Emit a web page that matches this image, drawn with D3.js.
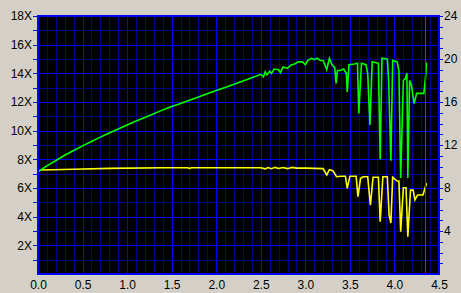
<!DOCTYPE html>
<html>
<head>
<meta charset="utf-8">
<script src="https://cdn.jsdelivr.net/npm/d3@7"></script>
<style>
    html, body { margin: 0; padding: 0; background: #d4d0c8; }
    svg { display: block; }
    text { font-family: "Liberation Sans", Arial, sans-serif; font-size: 12px; fill: #000; }
</style>
</head>
<body>
<svg id="chart" width="461" height="293"></svg>
<script>
// tick values
const xTicks = [0, 0.5, 1, 1.5, 2, 2.5, 3, 3.5, 4, 4.5];
const leftTicks = d3.range(1, 19);
const rightTicks = d3.range(1, 25);

// read speed (X), left axis
const speedPos = [0, 0.1, 0.2, 0.3, 0.4, 0.5, 0.6, 0.7, 0.8, 0.9, 1.0, 1.1, 1.2, 1.3, 1.4, 1.5,
    1.6, 1.7, 1.8, 1.9, 2.0, 2.1, 2.2, 2.3, 2.4, 2.5, 2.53, 2.55, 2.57, 2.6, 2.62, 2.65, 2.7,
    2.72, 2.75, 2.8, 2.84, 2.88, 2.92, 2.97, 3.0, 3.03, 3.07, 3.1, 3.13, 3.17, 3.2, 3.22, 3.24,
    3.27, 3.3, 3.33, 3.345, 3.36, 3.39, 3.43, 3.46, 3.47, 3.49, 3.55, 3.585, 3.6, 3.63, 3.68,
    3.7, 3.725, 3.75, 3.82, 3.84, 3.86, 3.92, 3.935, 3.96, 3.98, 4.03, 4.05, 4.07, 4.1, 4.12,
    4.14, 4.15, 4.17, 4.19, 4.22, 4.25, 4.33, 4.35, 4.36];
const speedX = [7.14, 7.54, 7.92, 8.28, 8.62, 8.94, 9.25, 9.55, 9.84, 10.12, 10.4, 10.67, 10.92,
    11.18, 11.45, 11.68, 11.9, 12.12, 12.35, 12.58, 12.8, 13.02, 13.24, 13.47, 13.7, 13.93,
    13.75, 14.1, 13.9, 14.15, 14.0, 14.3, 14.25, 14.05, 14.45, 14.35, 14.58, 14.65, 14.8, 14.8,
    14.6, 14.93, 15.05, 14.95, 15.05, 14.9, 14.9, 14.6, 14.25, 15.05, 14.6, 14.4, 13.3, 14.2,
    14.2, 14.3, 14.0, 12.7, 14.6, 14.65, 14.7, 11.2, 14.7, 14.6, 14.0, 10.4, 14.8, 14.7, 8.0,
    15.05, 15.0, 13.5, 7.9, 14.9, 14.8, 14.2, 6.7, 13.5, 13.6, 14.0, 6.7, 13.5, 13.2, 11.9,
    12.6, 12.6, 13.8, 14.75];

// rotation, right axis
const rpmPos = [0, 0.03, 0.4, 0.8, 1.4, 1.68, 1.7, 1.72, 2.5, 2.55, 2.58, 2.62, 2.66, 2.7, 2.75,
    2.8, 2.85, 2.9, 3.0, 3.2, 3.24, 3.27, 3.31, 3.35, 3.4, 3.45, 3.47, 3.5, 3.57, 3.59, 3.62,
    3.65, 3.7, 3.73, 3.76, 3.82, 3.84, 3.87, 3.92, 3.94, 3.96, 3.98, 4.03, 4.05, 4.07, 4.1, 4.13,
    4.15, 4.18, 4.21, 4.23, 4.26, 4.32, 4.36];
const rpmValue = [9.52, 9.67, 9.74, 9.83, 9.89, 9.89, 9.82, 9.89, 9.89, 9.78, 9.9, 9.8, 9.92,
    9.82, 9.9, 9.8, 9.92, 9.85, 9.85, 9.8, 9.2, 9.7, 9.6, 9.05, 9.1, 9.1, 7.97, 9.1, 9.1, 7.2,
    8.9, 9.05, 9.05, 6.4, 9.0, 9.0, 4.87, 9.05, 9.05, 5.5, 4.74, 9.0, 8.65, 8.65, 3.94, 8.03,
    8.03, 3.47, 7.8, 7.8, 6.9, 7.35, 7.35, 8.44];

const markerPos = 4.34;

const svg = d3.select('#chart');
const plot = { left: 38, right: 439, top: 16, bottom: 274 };

const x = d3.scaleLinear().domain([0, 4.5]).range([plot.left, plot.right]);
const yLeft = d3.scaleLinear().domain([0, 18]).range([plot.bottom, plot.top]);
const yRight = d3.scaleLinear().domain([0, 24]).range([plot.bottom, plot.top]);

svg.append('rect')
    .attr('x', plot.left)
    .attr('y', plot.top)
    .attr('width', plot.right - plot.left)
    .attr('height', plot.bottom - plot.top)
    .attr('fill', '#000000');

// grid: dim every 0.1 / 1X, bright every 0.5 / 2X
const grid = svg.append('g').attr('shape-rendering', 'crispEdges');
const vMinor = d3.range(1, 45).map(i => i / 10);
const hMinor = d3.range(1, 18);

grid.selectAll('line.v')
    .data(vMinor)
    .enter()
    .append('line')
    .attr('x1', d => Math.round(x(d)) + 0.5)
    .attr('x2', d => Math.round(x(d)) + 0.5)
    .attr('y1', plot.top)
    .attr('y2', plot.bottom)
    .attr('stroke', d => Math.abs(d * 2 - Math.round(d * 2)) < 1e-6 ? '#0000ff' : '#000090');

grid.selectAll('line.h')
    .data(hMinor)
    .enter()
    .append('line')
    .attr('x1', plot.left)
    .attr('x2', plot.right)
    .attr('y1', d => Math.round(yLeft(d)) + 0.5)
    .attr('y2', d => Math.round(yLeft(d)) + 0.5)
    .attr('stroke', d => d % 2 === 0 ? '#0000ff' : '#000090');

// series
const speedLine = d3.line()
    .x(d => x(d[0]))
    .y(d => yLeft(d[1]));
const rpmLine = d3.line()
    .x(d => x(d[0]))
    .y(d => yRight(d[1]));

svg.append('path')
    .datum(d3.zip(rpmPos, rpmValue))
    .attr('d', rpmLine)
    .attr('fill', 'none')
    .attr('stroke', '#ffff00')
    .attr('stroke-width', 1.6);

svg.append('path')
    .datum(d3.zip(speedPos, speedX))
    .attr('d', speedLine)
    .attr('fill', 'none')
    .attr('stroke', '#00ff00')
    .attr('stroke-width', 1.6);

svg.append('line')
    .attr('x1', Math.round(x(markerPos)) + 0.5)
    .attr('x2', Math.round(x(markerPos)) + 0.5)
    .attr('y1', plot.top)
    .attr('y2', plot.bottom)
    .attr('stroke', '#ff0000')
    .attr('shape-rendering', 'crispEdges');

// frame
svg.append('rect')
    .attr('x', plot.left)
    .attr('y', plot.top)
    .attr('width', plot.right - plot.left)
    .attr('height', plot.bottom - plot.top)
    .attr('fill', 'none')
    .attr('stroke', '#0000ff')
    .attr('stroke-width', 2);

// axes
const leftAxis = svg.append('g')
    .attr('transform', `translate(${plot.left},0)`)
    .call(d3.axisLeft(yLeft)
        .tickValues(leftTicks)
        .tickSize(5)
        .tickPadding(1)
        .tickFormat(d => d % 2 === 0 ? d + 'X' : ''));

const rightAxis = svg.append('g')
    .attr('transform', `translate(${plot.right},0)`)
    .call(d3.axisRight(yRight)
        .tickValues(rightTicks)
        .tickSize(4)
        .tickPadding(1)
        .tickFormat(d => d % 4 === 0 ? d : ''));

const bottomAxis = svg.append('g')
    .attr('transform', `translate(0,${plot.bottom})`)
    .call(d3.axisBottom(x)
        .tickValues(xTicks)
        .tickSize(0)
        .tickPadding(6.5)
        .tickFormat(d3.format('.1f')));

for (let axis of [leftAxis, rightAxis, bottomAxis]) {
    axis.select('.domain').remove();
    axis.selectAll('.tick line')
        .attr('stroke', '#0000ff')
        .attr('shape-rendering', 'crispEdges');
    axis.selectAll('text')
        .attr('font-size', 12)
        .attr('font-family', '"Liberation Sans", Arial, sans-serif')
        .attr('fill', '#000');
}
</script>
</body>
</html>
